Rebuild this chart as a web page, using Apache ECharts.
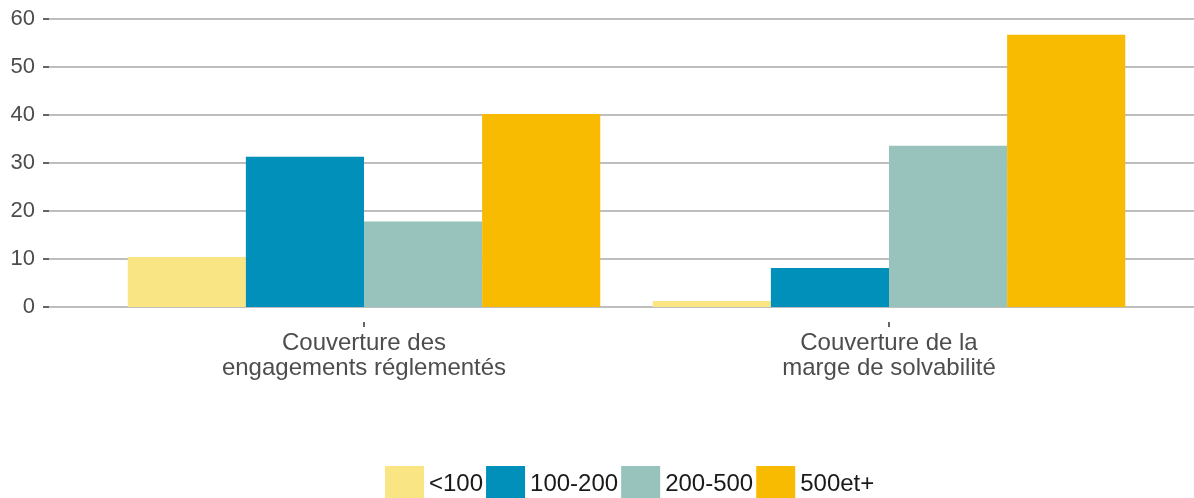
<!DOCTYPE html>
<html>
<head>
<meta charset="utf-8">
<script src="https://cdn.jsdelivr.net/npm/echarts@6/dist/echarts.min.js"></script>
<style>
  html, body { margin: 0; padding: 0; background: #fff; }
  #chart { width: 1194px; height: 498px; }
</style>
</head>
<body>
<div id="chart"></div>
<script>
// categories (x axis)
const categories = ['Couverture des\nengagements réglementés', 'Couverture de la\nmarge de solvabilité']
// series (legend order)
const seriesNames = ['<100', '100-200', '200-500', '500et+']
const valsLt100 = [10.4, 1.25]
const vals100to200 = [31.3, 8.1]
const vals200to500 = [17.8, 33.6]
const vals500plus = [40.2, 56.7]
const yTicks = [0, 10, 20, 30, 40, 50, 60]

const colors = ['#F9E584', '#0090B9', '#98C2BC', '#F9BA02']
const font = "'Liberation Sans', Arial, sans-serif"

const allValues = [valsLt100, vals100to200, vals200to500, vals500plus]

const chart = echarts.init(document.getElementById('chart'))

const option = {
  animation: false,
  color: colors,
  textStyle: { fontFamily: font },
  grid: [
    // grid 0: y axis labels + gridlines over the full panel width
    { left: 49, right: -20, top: 19, bottom: 191 },
    // grid 1: the bars (ggplot style discrete expansion)
    { left: 101.5, width: 1050, top: 19, bottom: 191 },
    // grid 2: x axis ticks and labels, a bit below the bars
    { left: 101.5, width: 1050, top: 34, bottom: 176 }
  ],
  legend: {
    data: seriesNames,
    top: 461,
    left: 380,
    icon: 'rect',
    itemWidth: 39,
    itemHeight: 37,
    itemGap: 3,
    textStyle: { fontSize: 24, color: '#1A1A1A', fontFamily: font }
  },
  xAxis: [
    { gridIndex: 0, type: 'value', min: 0, max: 1, show: false },
    { gridIndex: 1, type: 'category', data: categories, show: false },
    {
      gridIndex: 2,
      type: 'category',
      data: categories,
      axisLine: { show: false },
      axisTick: { show: true, alignWithLabel: true, length: 5, lineStyle: { color: '#333', width: 1.5 } },
      axisLabel: { fontSize: 24, color: '#4D4D4D', lineHeight: 25, margin: 9, fontFamily: font }
    }
  ],
  yAxis: [
    {
      gridIndex: 0,
      type: 'value',
      min: yTicks[0],
      max: yTicks[yTicks.length - 1],
      interval: 10,
      axisLine: { show: false },
      axisTick: { show: true, length: 6, lineStyle: { color: '#333', width: 1.5 } },
      axisLabel: { fontSize: 22, color: '#4D4D4D', margin: 14, fontFamily: font },
      splitLine: { show: true, lineStyle: { color: '#BEBEBE', width: 2 } }
    },
    { gridIndex: 1, type: 'value', min: 0, max: 60, show: false, splitLine: { show: false } },
    { gridIndex: 2, type: 'value', min: 0, max: 60, show: false, splitLine: { show: false } }
  ],
  series: seriesNames.map((name, i) => ({
    name: name,
    type: 'bar',
    xAxisIndex: 1,
    yAxisIndex: 1,
    data: allValues[i],
    barGap: 0,
    barCategoryGap: '10%',
    itemStyle: { color: colors[i] }
  }))
}

chart.setOption(option)
</script>
</body>
</html>
